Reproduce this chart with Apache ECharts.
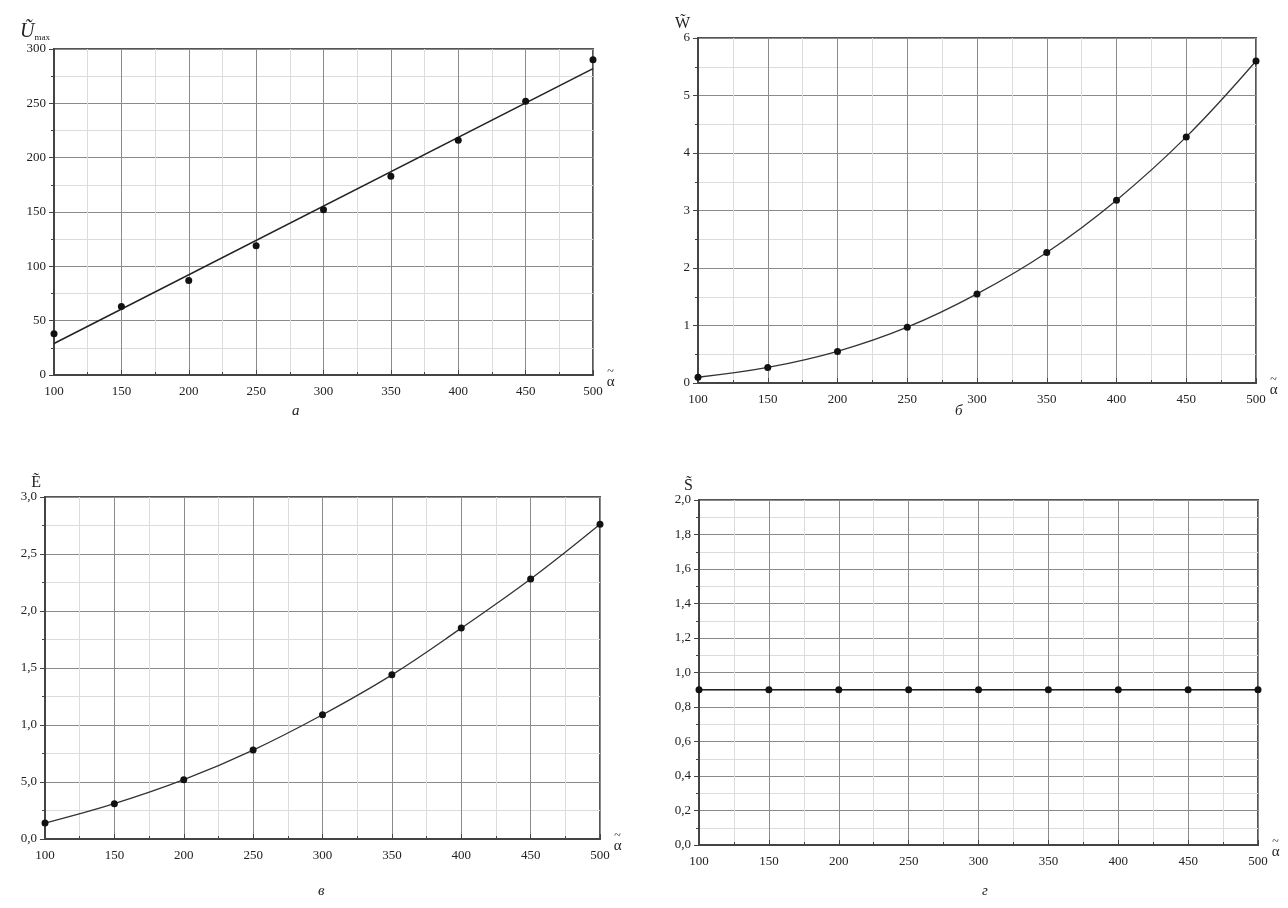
<!DOCTYPE html>
<html>
<head>
<meta charset="utf-8">
<script src="https://cdn.jsdelivr.net/npm/echarts@6/dist/echarts.min.js"></script>
<style>
  html, body { margin: 0; padding: 0; background: #fff; }
  #chart { width: 1288px; height: 908px; }
</style>
</head>
<body>
<div id="chart"></div>
<script>
// x: alpha values, common to all panels
const alpha = [100, 150, 200, 250, 300, 350, 400, 450, 500];

// а) U max: points + linear fit
const uPoints = [38, 63, 87, 119, 152, 183, 216, 252, 290];
const uFit = [[100, 29], [500, 282]];
// б) W
const wPoints = [0.1, 0.27, 0.55, 0.97, 1.55, 2.27, 3.18, 4.28, 5.6];
// в) E
const ePoints = [0.14, 0.31, 0.52, 0.78, 1.09, 1.44, 1.85, 2.28, 2.76];
// г) S
const sPoints = [0.9, 0.9, 0.9, 0.9, 0.9, 0.9, 0.9, 0.9, 0.9];

// tick labels as printed (comma decimals, "5,0" kept as in original)
const eTicks = ['0,0', '5,0', '1,0', '1,5', '2,0', '2,5', '3,0'];
const sTicks = ['0,0', '0,2', '0,4', '0,6', '0,8', '1,0', '1,2', '1,4', '1,6', '1,8', '2,0'];

const FONT = '"Liberation Serif", "DejaVu Serif", serif';
const labelStyle = { fontFamily: FONT, fontSize: 13, color: '#222' };

const grids = [
  { left: 54, top: 49, width: 539, height: 326 },
  { left: 698, top: 38, width: 558, height: 345 },
  { left: 45, top: 497, width: 555, height: 342 },
  { left: 699, top: 500, width: 559, height: 345 }
].map(g => Object.assign(g, { show: true, borderColor: '#555', borderWidth: 2, backgroundColor: 'transparent' }));

function xAxis(i) {
  return {
    type: 'value', gridIndex: i, min: 100, max: 500, interval: 50,
    name: '{t|~}\n{a|α}', nameLocation: 'end', nameGap: 4,
    nameTextStyle: {
      fontFamily: FONT, color: '#222', padding: [8, 0, 0, 0],
      rich: {
        t: { fontFamily: FONT, fontSize: 12, lineHeight: 6, align: 'center', color: '#222' },
        a: { fontFamily: FONT, fontSize: 15, lineHeight: 14, align: 'center', color: '#222' }
      }
    },
    axisLine: { show: true, onZero: false, lineStyle: { color: '#444', width: 2 } },
    axisTick: { show: true, inside: true, length: 5, lineStyle: { color: '#444' } },
    minorTick: { show: true, splitNumber: 2, length: 3, lineStyle: { color: '#444' } },
    axisLabel: Object.assign({ margin: 10 }, labelStyle),
    splitLine: { show: true, lineStyle: { color: '#8a8a8a', width: 1 } },
    minorSplitLine: { show: true, lineStyle: { color: '#dcdcdc', width: 1 } }
  };
}

function yAxis(i, max, interval, name, fmt, nameStyle) {
  return {
    type: 'value', gridIndex: i, min: 0, max: max, interval: interval,
    name: name, nameLocation: 'end', nameGap: 6,
    nameTextStyle: nameStyle,
    axisLine: { show: true, lineStyle: { color: '#444', width: 2 } },
    axisTick: { show: true, inside: false, length: 5, lineStyle: { color: '#444' } },
    minorTick: { show: true, splitNumber: 2, length: 3, lineStyle: { color: '#444' } },
    axisLabel: Object.assign({ margin: 8, formatter: fmt }, labelStyle),
    splitLine: { show: true, lineStyle: { color: '#8a8a8a', width: 1 } },
    minorSplitLine: { show: true, lineStyle: { color: '#dcdcdc', width: 1 } }
  };
}

function nameStyle(dx) {
  return {
    fontFamily: FONT, fontSize: 16, color: '#222', align: 'right', padding: [0, dx, 0, 0],
    rich: {
      u: { fontFamily: FONT, fontSize: 20, fontStyle: 'italic', color: '#222' },
      s: { fontFamily: FONT, fontSize: 9, color: '#222', padding: [12, 0, 0, 0] }
    }
  };
}

const pairs = arr => alpha.map((x, i) => [x, arr[i]]);
const dot = { symbol: 'circle', symbolSize: 7, itemStyle: { color: '#111', opacity: 1 } };

const option = {
  animation: false,
  grid: grids,
  xAxis: [xAxis(0), xAxis(1), xAxis(2), xAxis(3)],
  yAxis: [
    yAxis(0, 300, 50, '{u|Ũ}{s|max}', v => String(v), nameStyle(4)),
    yAxis(1, 6, 1, 'W̃', v => String(v), nameStyle(8)),
    yAxis(2, 3, 0.5, 'Ẽ', v => eTicks[Math.round(v / 0.5)], nameStyle(4)),
    yAxis(3, 2, 0.2, 'S̃', v => sTicks[Math.round(v / 0.2)], nameStyle(6))
  ],
  series: [
    { type: 'line', xAxisIndex: 0, yAxisIndex: 0, data: uFit, showSymbol: false,
      lineStyle: { color: '#222', width: 1.5 }, z: 3 },
    Object.assign({ type: 'scatter', xAxisIndex: 0, yAxisIndex: 0, data: pairs(uPoints), z: 4 }, dot),
    Object.assign({ type: 'line', xAxisIndex: 1, yAxisIndex: 1, data: pairs(wPoints), smooth: 0.4,
      lineStyle: { color: '#333', width: 1.3 } }, dot),
    Object.assign({ type: 'line', xAxisIndex: 2, yAxisIndex: 2, data: pairs(ePoints), smooth: 0.4,
      lineStyle: { color: '#333', width: 1.3 } }, dot),
    Object.assign({ type: 'line', xAxisIndex: 3, yAxisIndex: 3, data: pairs(sPoints),
      lineStyle: { color: '#222', width: 1.5 } }, dot)
  ],
  graphic: [
    { type: 'text', left: 292, top: 404, style: { text: 'а', font: 'italic 15px ' + FONT, fill: '#222' } },
    { type: 'text', left: 955, top: 404, style: { text: 'б', font: 'italic 15px ' + FONT, fill: '#222' } },
    { type: 'text', left: 318, top: 884, style: { text: 'в', font: 'italic 15px ' + FONT, fill: '#222' } },
    { type: 'text', left: 982, top: 884, style: { text: 'г', font: 'italic 15px ' + FONT, fill: '#222' } }
  ]
};

const chart = echarts.init(document.getElementById('chart'));
chart.setOption(option);
</script>
</body>
</html>
